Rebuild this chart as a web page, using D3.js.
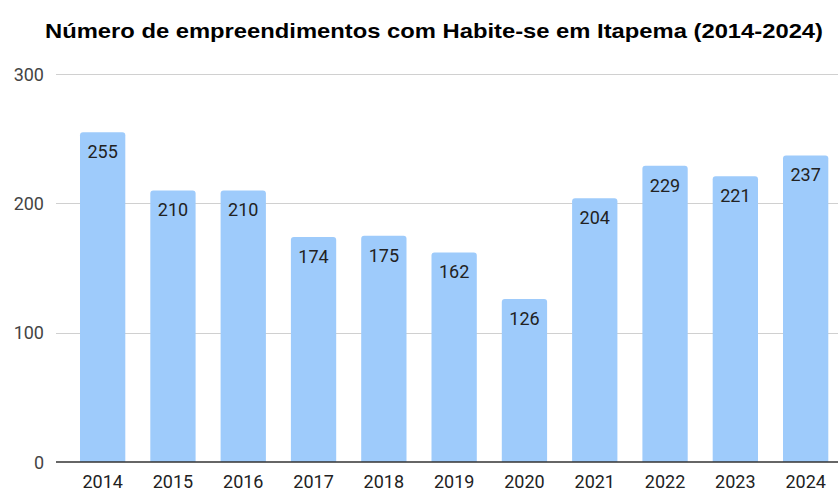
<!DOCTYPE html>
<html><head><meta charset="utf-8">
<script src="https://cdn.jsdelivr.net/npm/d3@7"></script>
<style>body{margin:0;background:#fff}svg{display:block}</style>
</head><body><svg id="c" width="838" height="491"></svg>
<script>
const years = ["2014","2015","2016","2017","2018","2019","2020","2021","2022","2023","2024"];
const values = [255,210,210,174,175,162,126,204,229,221,237];
const yTicks = [0,100,200,300];
const title = "Número de empreendimentos com Habite-se em Itapema (2014-2024)";

const svg = d3.select("#c");
const x = d3.scaleBand().domain(years).range([80, 828.3]).paddingInner(0.3556).paddingOuter(0);
const y = d3.scaleLinear().domain([0,300]).range([462, 74]);

svg.append("text").attr("x", 45).attr("y", 38).attr("text-anchor","start")
  .attr("font-family","Liberation Sans, Arial, sans-serif").attr("font-weight","bold")
  .attr("font-size", 21).attr("textLength", 778).attr("lengthAdjust","spacingAndGlyphs")
  .attr("fill","#000").text(title);

const yAxis = d3.axisLeft(y).tickValues(yTicks).tickSize(0).tickPadding(0);
const gy = svg.append("g").attr("transform","translate(44,0)").call(yAxis);
gy.select(".domain").remove();
gy.selectAll("text").attr("font-family","Roboto, sans-serif").attr("font-size",18).attr("fill","#444").attr("dy","0.35em").attr("x",0);

svg.append("g").selectAll("line").data(yTicks.filter(d=>d>0)).join("line")
  .attr("x1",56).attr("x2",838).attr("y1",d=>Math.round(y(d))+0.5).attr("y2",d=>Math.round(y(d))+0.5)
  .attr("stroke","#d0d0d0").attr("stroke-width",1);

const r = 3;
svg.append("g").selectAll("path").data(years).join("path")
  .attr("fill","#9ecbfb")
  .attr("d",(d,i)=>{
    const x0 = x(d), w = x.bandwidth(), t = y(values[i]), b = y(0);
    return `M${x0},${b}V${t+r}Q${x0},${t} ${x0+r},${t}H${x0+w-r}Q${x0+w},${t} ${x0+w},${t+r}V${b}Z`;
  });

svg.append("line").attr("x1",56).attr("x2",838).attr("y1",y(0)).attr("y2",y(0))
  .attr("stroke","#333").attr("stroke-width",1.3);

svg.append("g").selectAll("text").data(years).join("text")
  .attr("x",(d)=>x(d)+x.bandwidth()/2).attr("y",(d,i)=>y(values[i])+26)
  .attr("text-anchor","middle").attr("font-family","Roboto, sans-serif").attr("font-size",18)
  .attr("fill","#222").text((d,i)=>values[i]);

const xAxis = d3.axisBottom(x).tickSize(0).tickPadding(0);
const gx = svg.append("g").attr("transform",`translate(0,${y(0)})`).call(xAxis);
gx.select(".domain").remove();
gx.selectAll("text").attr("font-family","Roboto, sans-serif").attr("font-size",18).attr("fill","#222").attr("dy",null).attr("y",26);
</script></body></html>
